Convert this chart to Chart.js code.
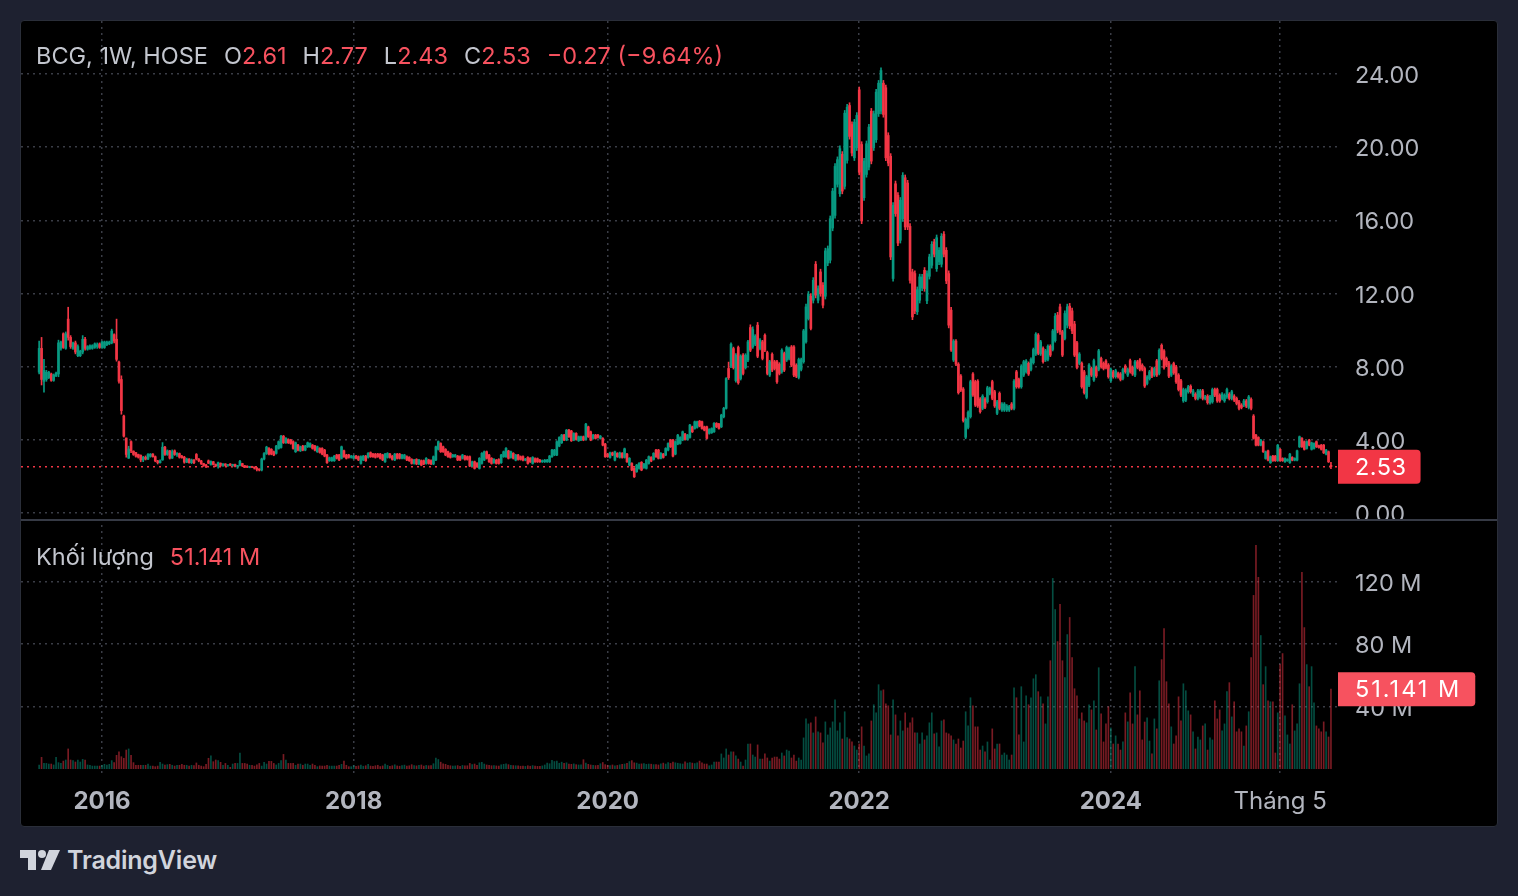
<!DOCTYPE html>
<html lang="vi">
<head>
<meta charset="utf-8">
<title>BCG, 1W, HOSE</title>
<script src="https://cdn.jsdelivr.net/npm/chart.js@4.4.1/dist/chart.umd.min.js"></script>
<style>
  html, body { margin: 0; padding: 0; width: 1518px; height: 896px; overflow: hidden; background: #1e2130; font-family: Inter, "Noto Sans", sans-serif; }
  #frame { position: absolute; left: 20px; top: 20px; width: 1478px; height: 807px; box-sizing: border-box; border: 1px solid #2a2e39; border-radius: 4px; background: #000; overflow: hidden; }
  #wrap { position: absolute; left: 0; top: 0; width: 1476px; height: 805px; }
  #sep { position: absolute; left: 0; top: 498px; width: 1476px; height: 2px; background: #363a45; }
  .legend { position: absolute; left: 15px; font-size: 23.5px; line-height: 28px; white-space: nowrap; color: #c3c6ce; }
  .legend .r { color: #f7525f; }
  .legend .gap { display: inline-block; width: 16px; }
  #title { top: 21px; }
  #vol { top: 522px; }
  #brand { position: absolute; left: 20px; top: 846px; height: 28px; display: flex; align-items: center; color: #d1d4dc; font-size: 25px; font-weight: 600; letter-spacing: -0.2px; }
  #brand svg { margin-right: 7px; }
</style>
</head>
<body>
<div id="frame">
  <div id="wrap"><canvas id="chart"></canvas></div>
  <div id="sep"></div>
  <div class="legend" id="title">BCG, 1W, HOSE<span class="gap"></span>O<span class="r">2.61</span><span class="gap"></span>H<span class="r">2.77</span><span class="gap"></span>L<span class="r">2.43</span><span class="gap"></span>C<span class="r">2.53</span><span class="gap"></span><span class="r">−0.27 (−9.64%)</span></div>
  <div class="legend" id="vol">Khối lượng<span class="gap"></span><span class="r">51.141 M</span></div>
</div>
<div id="brand">
  <svg width="40" height="22" viewBox="0 0 40 22"><path d="M0 1H16V21H8V9H0Z" fill="#d1d4dc"/><circle cx="22" cy="5" r="4" fill="#d1d4dc"/><path d="M29 1H40L31 21H21Z" fill="#d1d4dc"/></svg>
  TradingView
</div>
<script>
// weekly bars, first bar is the week of 2015-07-06
const START_WEEK = '2015-07-06';
const timeTickDates = ['2016-01-04', '2018-01-01', '2020-01-06', '2022-01-03', '2024-01-01', '2025-05-05'];
const timeTickText = ['2016', '2018', '2020', '2022', '2024', 'Tháng 5'];
const priceTicks = [0, 4, 8, 12, 16, 20, 24];
const volumeTicks = [40, 80, 120];

const opens = [
  7.7, 9.0, 7.2, 7.3, 7.4, 7.6, 7.25, 7.5, 7.6, 9.0,
  9.8, 9.0, 10.6, 9.6, 9.0, 9.3, 8.6, 8.6, 8.8, 9.5,
  8.95, 9.0, 9.0, 9.05, 9.1, 9.25, 9.05, 9.05, 9.2, 9.25,
  9.3, 9.75, 9.5, 8.25, 7.3, 5.3, 4.1, 3.0, 3.9, 3.38,
  3.3, 3.2, 3.15, 2.9, 3.05, 2.95, 3.1, 3.22, 3.08, 2.85,
  2.75, 2.9, 3.6, 3.2, 3.4, 3.0, 3.4, 3.2, 3.25, 3.1,
  3.05, 2.78, 2.95, 2.75, 2.9, 3.2, 2.95, 2.85, 2.7, 2.62,
  2.85, 2.65, 2.8, 2.65, 2.58, 2.72, 2.6, 2.68, 2.6, 2.68,
  2.6, 2.65, 2.55, 2.6, 2.7, 2.58, 2.56, 2.5, 2.53, 2.5,
  2.45, 2.38, 2.35, 2.95, 3.25, 3.53, 3.48, 3.35, 3.26, 3.53,
  3.58, 4.20, 3.84, 4.02, 3.99, 3.90, 3.35, 3.71, 3.40, 3.66,
  3.44, 3.62, 3.62, 3.71, 3.66, 3.35, 3.53, 3.53, 3.44, 3.17,
  2.86, 2.86, 2.86, 3.17, 3.17, 2.99, 3.40, 3.17, 3.17, 3.04,
  2.99, 3.11, 3.08, 2.71, 2.90, 3.11, 3.04, 3.30, 3.22, 3.22,
  3.22, 3.22, 3.17, 2.80, 3.04, 3.22, 3.11, 2.90, 3.22, 3.22,
  2.99, 2.99, 3.08, 3.04, 2.93, 2.71, 2.93, 2.68, 2.86, 2.86,
  2.71, 2.90, 2.86, 2.68, 2.90, 3.48, 3.80, 3.62, 3.48, 3.35,
  3.26, 3.08, 3.08, 3.11, 3.08, 2.99, 3.11, 3.08, 3.08, 2.57,
  2.80, 2.71, 2.44, 2.71, 2.90, 3.35, 3.17, 2.99, 2.75, 2.89,
  2.93, 2.75, 3.08, 3.08, 3.39, 3.04, 3.26, 2.89, 3.17, 3.08,
  3.08, 2.89, 3.04, 2.99, 2.71, 2.97, 2.97, 2.89, 2.80, 2.80,
  2.80, 2.80, 3.08, 3.17, 3.17, 3.66, 3.84, 4.26, 3.99, 4.53,
  4.48, 3.99, 4.35, 3.95, 3.99, 4.17, 4.02, 4.71, 4.44, 4.08,
  4.26, 4.26, 4.08, 4.08, 3.77, 3.22, 3.04, 3.29, 2.89, 3.26,
  3.04, 3.26, 3.04, 3.22, 2.62, 2.71, 2.44, 2.26, 2.44, 2.77,
  2.48, 2.44, 2.71, 3.04, 2.93, 3.44, 3.44, 2.99, 3.22, 3.17,
  3.44, 3.99, 3.99, 3.22, 3.77, 3.80, 3.99, 4.31, 4.02, 4.13,
  4.71, 4.62, 4.68, 5.02, 4.99, 4.71, 4.71, 4.35, 4.39, 4.44,
  4.90, 4.86, 4.71, 5.26, 5.72, 7.90, 8.03, 8.99, 7.23, 9.05,
  7.35, 8.63, 7.95, 8.36, 10.14, 9.08, 9.23, 10.27, 8.99, 9.36,
  9.72, 8.77, 7.54, 8.68, 8.27, 8.27, 8.14, 7.72, 8.72, 8.36,
  8.45, 9.08, 9.08, 8.08, 7.41, 7.85, 8.27, 9.36, 10.63, 11.85,
  11.63, 13.60, 11.63, 13.18, 12.45, 11.85, 13.67, 13.82, 15.58, 16.27,
  17.97, 17.46, 19.61, 17.86, 19.28, 22.28, 21.24, 19.42, 19.97, 23.14,
  20.15, 17.24, 18.51, 18.91, 21.97, 19.97, 20.41, 21.83, 21.97, 23.50,
  23.25, 20.64, 19.50, 12.82, 18.00, 17.37, 14.91, 16.09, 18.33, 18.04,
  15.67, 13.18, 13.09, 11.00, 11.63, 12.30, 13.27, 11.60, 12.94, 13.54,
  14.82, 13.36, 13.73, 13.60, 15.24, 14.36, 13.09, 11.09, 8.36, 9.40,
  8.14, 7.49, 6.78, 4.14, 4.68, 5.27, 7.60, 7.18, 7.21, 6.23,
  5.72, 6.23, 6.08, 6.54, 7.18, 6.63, 5.45, 6.54, 5.63, 5.63,
  5.63, 5.63, 5.96, 5.72, 7.72, 7.30, 6.90, 7.54, 7.72, 8.18,
  7.85, 8.22, 8.69, 9.73, 8.69, 9.00, 8.36, 8.40, 9.12, 8.94,
  9.42, 10.82, 11.27, 9.91, 9.54, 10.27, 11.31, 11.05, 10.33, 9.31,
  8.18, 8.18, 7.72, 6.32, 6.99, 7.90, 7.27, 7.96, 7.85, 8.45,
  8.18, 8.31, 8.09, 7.23, 7.72, 7.45, 7.63, 7.60, 7.36, 8.03,
  7.54, 8.33, 7.96, 7.54, 8.27, 8.36, 8.08, 7.90, 7.08, 7.35,
  7.90, 7.54, 8.32, 7.63, 9.17, 8.86, 8.45, 8.21, 7.54, 8.17,
  7.99, 7.54, 7.23, 6.13, 6.17, 6.63, 6.93, 6.44, 6.50, 6.26,
  6.35, 6.68, 6.26, 6.39, 6.03, 6.08, 6.75, 6.75, 6.44, 6.26,
  6.13, 6.35, 6.50, 6.26, 6.39, 6.26, 6.08, 5.90, 5.90, 6.13,
  5.77, 6.21, 5.30, 4.26, 4.13, 3.71, 3.90, 2.98, 3.40, 2.75,
  3.11, 3.11, 2.86, 3.48, 2.98, 2.80, 2.86, 2.75, 3.04, 2.89,
  2.89, 3.62, 4.08, 3.90, 3.53, 3.99, 3.48, 3.53, 3.90, 3.68,
  3.71, 3.71, 3.22, 3.35, 2.61
];
const highs = [
  9.4, 9.6, 8.4, 7.8, 7.75, 7.65, 7.6, 7.7, 9.45, 9.4,
  9.85, 9.9, 11.25, 9.7, 9.35, 9.4, 9.2, 8.9, 9.7, 9.6,
  9.15, 9.2, 9.2, 9.3, 9.3, 9.3, 9.4, 9.4, 9.4, 9.4,
  10.05, 9.8, 10.6, 8.3, 7.5, 5.35, 4.1, 3.65, 3.95, 3.4,
  3.32, 3.22, 3.18, 3.1, 3.12, 3.25, 3.25, 3.25, 3.12, 2.88,
  2.9, 3.85, 3.65, 3.45, 3.42, 3.45, 3.45, 3.3, 3.28, 3.15,
  3.1, 3.0, 2.98, 2.95, 2.92, 3.25, 2.98, 2.88, 2.72, 2.66,
  2.9, 2.85, 2.82, 2.68, 2.78, 2.74, 2.7, 2.7, 2.65, 2.7,
  2.67, 2.67, 2.6, 2.88, 2.72, 2.6, 2.58, 2.55, 2.55, 2.52,
  2.5, 2.42, 3.0, 3.3, 3.65, 3.57, 3.52, 3.39, 3.70, 3.94,
  4.24, 4.24, 4.12, 4.06, 4.03, 3.94, 3.88, 3.75, 3.66, 3.70,
  3.70, 3.88, 3.84, 3.75, 3.70, 3.66, 3.57, 3.57, 3.48, 3.21,
  3.06, 3.06, 3.15, 3.21, 3.21, 3.66, 3.44, 3.21, 3.21, 3.15,
  3.15, 3.15, 3.12, 3.12, 3.15, 3.15, 3.30, 3.34, 3.26, 3.26,
  3.26, 3.26, 3.21, 3.26, 3.30, 3.26, 3.15, 3.26, 3.26, 3.26,
  3.21, 3.21, 3.12, 3.08, 2.97, 2.94, 2.97, 2.94, 2.90, 2.90,
  3.03, 2.94, 2.90, 3.12, 3.66, 3.94, 3.84, 3.66, 3.52, 3.39,
  3.30, 3.21, 3.21, 3.15, 3.12, 3.21, 3.15, 3.12, 3.12, 2.84,
  2.84, 2.75, 3.03, 3.30, 3.39, 3.39, 3.21, 3.03, 2.97, 2.93,
  2.97, 3.21, 3.39, 3.57, 3.43, 3.39, 3.30, 3.21, 3.21, 3.12,
  3.12, 2.99, 3.08, 3.03, 3.08, 3.01, 3.01, 2.93, 2.90, 2.93,
  2.93, 3.15, 3.48, 3.48, 3.94, 4.17, 4.30, 4.30, 4.57, 4.57,
  4.52, 4.39, 4.39, 4.21, 4.21, 4.21, 4.90, 4.75, 4.48, 4.30,
  4.30, 4.30, 4.24, 4.12, 3.81, 3.26, 3.33, 3.33, 3.39, 3.30,
  3.33, 3.30, 3.55, 3.26, 3.03, 2.75, 2.48, 2.66, 2.75, 2.81,
  2.72, 2.93, 3.12, 3.08, 3.30, 3.48, 3.48, 3.30, 3.26, 3.57,
  3.84, 4.03, 4.03, 3.94, 4.30, 4.17, 4.48, 4.35, 4.30, 4.85,
  4.75, 5.03, 5.03, 5.06, 5.03, 4.75, 4.75, 4.61, 4.66, 4.94,
  4.94, 4.90, 5.40, 5.78, 7.40, 8.25, 9.31, 9.07, 8.71, 9.13,
  8.65, 8.71, 8.71, 9.44, 10.29, 10.18, 9.75, 10.42, 9.53, 9.44,
  9.80, 8.85, 8.35, 8.76, 8.35, 8.35, 8.22, 8.98, 8.80, 9.13,
  9.07, 9.16, 9.16, 8.16, 8.47, 8.47, 10.04, 11.42, 12.11, 12.00,
  12.87, 13.75, 12.42, 13.33, 12.60, 14.48, 14.60, 16.24, 17.75, 19.10,
  19.47, 20.07, 19.76, 22.01, 22.34, 22.43, 21.39, 21.52, 21.89, 23.29,
  20.30, 19.39, 20.34, 21.25, 22.12, 21.98, 23.16, 23.65, 24.34, 23.65,
  23.40, 20.79, 19.65, 16.97, 18.15, 17.52, 17.25, 18.61, 18.48, 18.19,
  15.82, 13.33, 13.24, 12.36, 13.06, 13.05, 13.42, 13.24, 14.15, 14.84,
  14.97, 15.20, 14.51, 15.28, 15.39, 14.51, 13.24, 11.24, 9.48, 9.48,
  8.22, 7.57, 6.86, 5.20, 5.58, 7.26, 7.68, 7.26, 7.29, 6.31,
  6.47, 6.31, 6.93, 6.89, 7.26, 6.71, 6.16, 6.62, 6.04, 6.04,
  5.93, 5.89, 6.04, 7.29, 7.80, 7.38, 8.11, 8.35, 8.39, 8.26,
  8.48, 9.02, 9.86, 9.81, 9.44, 9.08, 8.95, 9.20, 9.20, 10.04,
  10.91, 10.97, 11.42, 9.99, 11.06, 11.42, 11.46, 11.20, 10.48, 9.39,
  8.77, 8.26, 7.80, 7.53, 8.17, 7.98, 8.41, 8.04, 8.95, 8.53,
  8.26, 8.39, 8.17, 7.93, 7.80, 7.86, 7.71, 7.68, 7.93, 8.11,
  7.93, 8.41, 8.04, 8.35, 8.35, 8.44, 8.16, 7.98, 7.52, 7.80,
  7.98, 7.98, 8.40, 8.98, 9.25, 8.94, 8.53, 8.29, 8.11, 8.25,
  8.07, 7.62, 7.31, 6.83, 6.80, 6.98, 7.01, 6.76, 6.58, 6.76,
  6.76, 6.76, 6.43, 6.47, 6.43, 6.83, 6.83, 6.83, 6.52, 6.58,
  6.52, 6.83, 6.58, 6.71, 6.47, 6.34, 6.16, 5.98, 6.21, 6.21,
  6.43, 6.29, 5.38, 4.30, 4.17, 4.03, 3.94, 3.39, 3.44, 3.12,
  3.15, 3.15, 3.75, 3.52, 3.02, 3.02, 2.97, 3.26, 3.08, 3.02,
  3.44, 4.21, 4.12, 3.94, 3.94, 4.03, 3.88, 3.84, 3.94, 3.72,
  3.75, 3.75, 3.48, 3.39, 2.77
];
const lows = [
  7.6, 7.0, 6.6, 7.2, 7.35, 7.2, 7.2, 7.45, 7.45, 8.9,
  9.0, 8.95, 9.45, 9.0, 8.95, 8.7, 8.55, 8.55, 8.7, 8.9,
  8.9, 8.95, 8.95, 9.0, 9.0, 9.0, 9.0, 9.0, 9.15, 9.2,
  9.25, 9.3, 8.3, 7.1, 5.4, 4.15, 3.05, 2.98, 3.3, 3.15,
  3.05, 3.0, 2.8, 2.8, 2.9, 2.92, 3.05, 3.05, 2.8, 2.68,
  2.72, 2.88, 3.15, 3.15, 2.95, 2.98, 3.15, 3.1, 3.0, 3.0,
  2.72, 2.75, 2.72, 2.7, 2.7, 2.9, 2.8, 2.65, 2.55, 2.48,
  2.7, 2.62, 2.62, 2.53, 2.45, 2.55, 2.55, 2.55, 2.55, 2.58,
  2.55, 2.52, 2.44, 2.58, 2.53, 2.48, 2.48, 2.47, 2.48, 2.4,
  2.3, 2.3, 2.3, 2.9, 3.2, 3.18, 3.18, 3.13, 3.22, 3.49,
  3.54, 3.80, 3.80, 3.80, 3.76, 3.49, 3.31, 3.40, 3.36, 3.40,
  3.40, 3.58, 3.58, 3.49, 3.40, 3.31, 3.27, 3.18, 3.07, 2.71,
  2.82, 2.82, 2.82, 2.95, 2.86, 2.95, 3.04, 2.95, 3.00, 3.00,
  2.95, 2.95, 2.86, 2.67, 2.86, 2.82, 3.00, 3.04, 3.04, 3.00,
  3.04, 2.95, 2.86, 2.76, 3.00, 3.00, 2.89, 2.86, 2.95, 2.95,
  2.95, 2.95, 2.86, 2.82, 2.67, 2.67, 2.64, 2.64, 2.58, 2.64,
  2.67, 2.67, 2.64, 2.64, 2.86, 3.44, 3.31, 3.31, 3.13, 3.04,
  3.00, 3.04, 3.04, 2.86, 2.86, 2.95, 2.89, 2.89, 2.53, 2.53,
  2.40, 2.49, 2.40, 2.67, 2.86, 2.95, 2.76, 2.67, 2.71, 2.67,
  2.67, 2.71, 3.04, 3.04, 2.95, 3.00, 2.95, 2.85, 2.89, 2.89,
  2.85, 2.85, 2.67, 2.76, 2.67, 2.76, 2.76, 2.76, 2.76, 2.76,
  2.76, 2.76, 3.04, 3.13, 3.13, 3.62, 3.80, 3.95, 3.95, 4.13,
  3.91, 3.95, 3.98, 3.91, 3.95, 3.95, 3.98, 4.13, 3.95, 4.04,
  4.04, 4.09, 4.04, 3.67, 3.04, 3.04, 3.00, 3.13, 2.85, 3.04,
  3.00, 3.00, 3.00, 2.76, 2.58, 2.31, 1.94, 2.22, 2.40, 2.31,
  2.44, 2.40, 2.67, 2.80, 2.89, 3.04, 2.95, 2.95, 3.00, 3.13,
  3.40, 3.58, 3.07, 3.18, 3.73, 3.76, 3.95, 3.98, 3.98, 4.09,
  4.40, 4.58, 4.64, 4.71, 4.58, 4.49, 4.04, 4.31, 4.35, 4.40,
  4.67, 4.58, 4.67, 5.20, 5.68, 7.30, 7.95, 7.87, 7.15, 7.04,
  7.27, 7.55, 7.87, 8.28, 8.82, 9.00, 9.15, 8.49, 8.91, 8.37,
  8.82, 7.55, 7.46, 7.73, 7.82, 7.09, 7.55, 7.64, 7.73, 8.28,
  8.37, 8.00, 7.46, 7.40, 7.33, 7.77, 8.19, 9.28, 10.55, 10.01,
  11.48, 11.76, 11.48, 11.85, 11.21, 11.70, 13.52, 13.67, 15.43, 16.12,
  17.82, 17.31, 17.45, 17.71, 19.13, 20.44, 19.53, 19.27, 19.82, 18.49,
  15.82, 17.09, 18.36, 18.76, 19.09, 19.82, 20.26, 21.68, 21.82, 21.64,
  19.27, 18.98, 13.85, 12.67, 16.22, 14.61, 14.76, 15.94, 15.49, 15.49,
  12.57, 10.57, 10.90, 10.85, 11.48, 12.15, 12.12, 11.45, 12.79, 13.39,
  14.00, 13.21, 13.58, 13.45, 14.00, 12.54, 10.12, 8.83, 8.28, 8.06,
  6.50, 6.64, 4.97, 4.06, 4.60, 5.19, 6.37, 5.82, 5.77, 5.46,
  5.64, 5.70, 6.00, 6.46, 6.19, 5.77, 5.37, 5.64, 5.55, 5.55,
  5.55, 5.55, 5.64, 5.64, 6.82, 6.82, 6.82, 7.46, 7.64, 7.52,
  7.77, 8.14, 8.61, 8.65, 8.61, 8.19, 8.28, 8.32, 8.55, 8.86,
  9.34, 9.85, 9.76, 8.55, 9.46, 10.12, 10.07, 9.81, 8.55, 7.88,
  8.10, 6.82, 6.50, 6.24, 6.91, 7.46, 7.19, 7.41, 7.77, 7.92,
  7.82, 7.88, 7.37, 7.15, 7.37, 7.37, 7.37, 7.22, 7.28, 7.64,
  7.46, 7.64, 7.52, 7.46, 7.88, 7.77, 7.77, 6.86, 7.00, 7.27,
  7.40, 7.46, 7.46, 7.55, 8.37, 7.87, 8.00, 7.40, 7.46, 7.58,
  7.09, 6.67, 6.36, 6.05, 6.09, 6.55, 6.55, 6.36, 6.18, 6.18,
  6.27, 6.18, 6.18, 5.95, 5.95, 6.00, 6.36, 6.05, 6.05, 6.18,
  6.05, 6.27, 6.18, 6.18, 6.09, 5.91, 5.64, 5.69, 5.82, 5.76,
  5.69, 5.64, 4.04, 3.67, 3.67, 3.67, 3.31, 2.94, 2.85, 2.71,
  2.82, 2.82, 2.82, 2.82, 2.82, 2.76, 2.82, 2.71, 2.85, 2.85,
  2.85, 3.58, 3.58, 3.44, 3.49, 3.67, 3.44, 3.49, 3.58, 3.54,
  3.44, 3.25, 3.18, 2.76, 2.43
];
const closes = [
  9.0, 7.3, 7.8, 7.7, 7.7, 7.25, 7.55, 7.65, 9.3, 9.35,
  9.05, 9.8, 9.6, 9.1, 9.3, 8.8, 9.1, 8.85, 9.5, 9.0,
  9.1, 9.15, 9.15, 9.25, 9.2, 9.05, 9.35, 9.35, 9.35, 9.35,
  9.95, 9.4, 8.4, 7.2, 5.6, 4.2, 3.2, 3.5, 3.4, 3.2,
  3.1, 3.05, 2.9, 3.05, 2.95, 3.2, 3.22, 3.08, 2.85, 2.75,
  2.85, 3.6, 3.2, 3.4, 3.0, 3.35, 3.2, 3.25, 3.05, 3.02,
  2.78, 2.95, 2.75, 2.9, 2.75, 2.95, 2.85, 2.7, 2.6, 2.55,
  2.72, 2.82, 2.65, 2.58, 2.75, 2.6, 2.68, 2.6, 2.63, 2.6,
  2.65, 2.55, 2.58, 2.82, 2.58, 2.5, 2.5, 2.53, 2.5, 2.45,
  2.38, 2.35, 2.95, 3.25, 3.6, 3.22, 3.22, 3.17, 3.66, 3.90,
  4.20, 3.84, 4.08, 3.84, 3.80, 3.53, 3.84, 3.44, 3.62, 3.44,
  3.66, 3.84, 3.80, 3.53, 3.44, 3.62, 3.31, 3.22, 3.11, 2.75,
  3.02, 3.02, 3.11, 2.99, 2.90, 3.62, 3.08, 2.99, 3.04, 3.11,
  3.11, 2.99, 2.90, 3.08, 3.11, 2.86, 3.26, 3.08, 3.08, 3.04,
  3.08, 2.99, 2.90, 3.22, 3.26, 3.04, 2.93, 3.22, 2.99, 2.99,
  3.17, 3.17, 2.90, 2.86, 2.71, 2.90, 2.68, 2.90, 2.62, 2.68,
  2.99, 2.71, 2.68, 3.08, 3.62, 3.90, 3.35, 3.35, 3.17, 3.08,
  3.04, 3.17, 3.17, 2.90, 2.90, 3.17, 2.93, 2.93, 2.57, 2.80,
  2.44, 2.53, 2.99, 3.26, 3.35, 2.99, 2.80, 2.71, 2.93, 2.71,
  2.71, 3.17, 3.35, 3.53, 2.99, 3.35, 2.99, 3.17, 2.93, 2.93,
  2.89, 2.95, 2.71, 2.80, 3.04, 2.80, 2.80, 2.80, 2.86, 2.89,
  2.89, 3.11, 3.44, 3.44, 3.90, 4.13, 4.26, 3.99, 4.53, 4.17,
  3.95, 4.35, 4.02, 4.17, 4.17, 3.99, 4.86, 4.17, 3.99, 4.26,
  4.08, 4.13, 4.20, 3.71, 3.08, 3.08, 3.29, 3.17, 3.35, 3.08,
  3.29, 3.04, 3.51, 2.80, 2.99, 2.35, 1.98, 2.62, 2.71, 2.35,
  2.68, 2.89, 3.08, 2.84, 3.26, 3.08, 2.99, 3.26, 3.04, 3.53,
  3.80, 3.62, 3.11, 3.90, 4.26, 4.13, 4.44, 4.02, 4.26, 4.81,
  4.44, 4.99, 4.99, 4.75, 4.62, 4.53, 4.08, 4.57, 4.62, 4.90,
  4.71, 4.62, 5.35, 5.72, 7.35, 7.40, 9.23, 7.95, 8.63, 7.12,
  8.57, 7.63, 8.63, 9.36, 8.90, 10.03, 9.67, 8.57, 9.45, 8.45,
  8.90, 7.63, 8.27, 7.81, 7.90, 7.17, 7.63, 8.90, 7.81, 9.05,
  8.99, 8.08, 7.54, 7.48, 8.39, 8.39, 9.96, 11.27, 11.96, 10.09,
  12.72, 11.91, 12.27, 12.00, 11.36, 14.33, 14.45, 16.09, 17.60, 18.95,
  19.32, 19.92, 17.60, 21.86, 22.19, 20.59, 19.68, 21.37, 21.74, 18.64,
  15.97, 19.24, 20.19, 21.10, 19.24, 21.83, 23.01, 23.50, 24.19, 21.79,
  19.42, 19.13, 14.00, 16.82, 16.37, 14.76, 17.10, 18.46, 15.64, 15.64,
  12.72, 10.72, 11.05, 12.21, 12.91, 12.90, 12.27, 13.09, 14.00, 14.69,
  14.15, 15.05, 14.36, 15.13, 14.15, 12.69, 10.27, 8.91, 9.40, 8.14,
  6.58, 6.72, 5.05, 5.12, 5.50, 7.18, 6.45, 5.90, 5.85, 5.54,
  6.39, 5.78, 6.85, 6.81, 6.27, 5.85, 6.08, 5.72, 5.96, 5.96,
  5.85, 5.81, 5.72, 7.21, 6.90, 6.90, 8.03, 8.27, 8.31, 7.60,
  8.40, 8.94, 9.78, 8.73, 9.36, 8.27, 8.87, 9.12, 8.63, 9.96,
  10.76, 10.00, 9.91, 8.63, 10.91, 11.27, 10.22, 9.96, 8.63, 7.96,
  8.69, 6.90, 6.58, 7.45, 8.09, 7.54, 8.33, 7.49, 8.87, 8.00,
  7.90, 7.96, 7.45, 7.85, 7.45, 7.78, 7.45, 7.30, 7.85, 7.72,
  7.85, 7.72, 7.60, 8.27, 7.96, 7.85, 7.85, 6.94, 7.44, 7.72,
  7.48, 7.90, 7.54, 8.90, 8.45, 7.95, 8.08, 7.48, 8.03, 7.66,
  7.17, 6.75, 6.44, 6.75, 6.72, 6.90, 6.63, 6.68, 6.26, 6.68,
  6.68, 6.26, 6.35, 6.03, 6.35, 6.75, 6.44, 6.13, 6.13, 6.50,
  6.44, 6.75, 6.26, 6.63, 6.17, 5.99, 5.72, 5.77, 6.13, 5.84,
  6.35, 5.72, 4.08, 3.71, 3.71, 3.99, 3.35, 3.35, 2.89, 3.08,
  2.86, 2.86, 3.71, 2.86, 2.86, 2.98, 2.93, 3.22, 2.89, 2.98,
  3.40, 4.17, 3.62, 3.48, 3.90, 3.71, 3.84, 3.80, 3.62, 3.58,
  3.48, 3.29, 3.44, 2.80, 2.53
];
// millions of shares per week
const volumes = [
  2.4, 7.3, 3.4, 3.4, 3.0, 3.0, 2.4, 7.3, 3.9, 3.5,
  4.9, 5.6, 12.7, 5.6, 5.2, 4.3, 5.6, 4.3, 6.0, 5.6,
  2.4, 2.2, 1.7, 1.7, 1.7, 1.7, 2.2, 2.8, 2.4, 2.8,
  5.2, 3.9, 8.6, 10.8, 7.7, 6.7, 12.0, 12.7, 8.6, 3.9,
  2.2, 2.2, 2.2, 2.2, 2.2, 3.0, 1.7, 1.7, 1.3, 1.7,
  4.1, 3.0, 2.4, 2.6, 2.8, 2.2, 1.7, 2.2, 2.2, 2.8,
  2.2, 2.2, 1.7, 2.2, 2.0, 3.7, 2.2, 1.7, 1.3, 2.8,
  6.7, 8.2, 4.5, 5.6, 5.2, 4.1, 2.2, 3.4, 2.2, 0.9,
  3.0, 3.4, 3.4, 10.1, 3.4, 3.4, 3.0, 2.2, 2.2, 1.7,
  2.5, 3.4, 1.7, 4.1, 3.0, 4.7, 4.7, 3.4, 2.4, 3.4,
  5.2, 9.2, 5.6, 3.4, 3.4, 3.4, 2.2, 3.0, 3.0, 2.2,
  3.0, 3.0, 2.2, 3.0, 2.2, 1.3, 1.8, 1.7, 1.7, 2.2,
  1.7, 1.7, 1.7, 1.7, 2.2, 2.8, 4.9, 2.2, 1.3, 1.3,
  2.0, 1.5, 1.8, 2.4, 1.6, 1.9, 2.8, 1.7, 1.5, 1.9,
  2.2, 1.4, 1.8, 3.0, 2.1, 1.6, 1.9, 2.5, 1.8, 1.6,
  2.0, 2.3, 1.7, 1.9, 2.6, 2.0, 1.8, 2.2, 2.4, 1.7,
  2.1, 1.9, 2.0, 3.2, 6.8, 5.9, 4.2, 3.1, 2.8, 2.2,
  1.9, 1.7, 1.8, 2.0, 1.6, 2.1, 1.8, 1.9, 3.4, 2.6,
  3.0, 2.2, 3.8, 4.1, 3.0, 2.4, 2.2, 1.9, 2.0, 1.8,
  1.7, 2.5, 2.8, 3.1, 2.6, 2.2, 2.0, 1.9, 1.8, 1.6,
  1.7, 1.5, 1.9, 1.6, 2.0, 1.7, 1.5, 1.6, 1.8, 2.4,
  3.6, 3.2, 5.4, 4.6, 4.9, 3.5, 4.2, 3.4, 3.8, 3.0,
  2.8, 3.1, 2.6, 2.4, 2.5, 5.8, 3.6, 2.8, 2.4, 2.2,
  2.0, 2.1, 3.2, 4.0, 2.6, 2.2, 2.0, 2.4, 1.9, 2.1,
  2.5, 2.8, 3.0, 3.4, 4.6, 5.2, 3.8, 3.6, 2.9, 3.1,
  3.3, 2.8, 3.0, 2.9, 2.6, 2.7, 2.4, 3.2, 3.6, 3.0,
  3.9, 3.4, 4.2, 3.8, 3.5, 3.2, 3.0, 4.4, 3.6, 4.0,
  3.6, 3.3, 3.8, 4.9, 3.7, 3.0, 3.0, 1.9, 2.4, 4.3,
  4.3, 4.3, 9.5, 6.9, 12.7, 8.8, 10.8, 10.8, 8.2, 6.2,
  4.3, 1.7, 5.6, 15.9, 15.9, 8.8, 7.5, 15.3, 6.2, 6.2,
  9.5, 6.9, 4.9, 6.9, 7.5, 7.5, 6.2, 10.1, 8.2, 12.0,
  11.4, 6.9, 8.8, 4.9, 6.9, 5.6, 19.8, 32.0, 28.8, 29.5,
  23.0, 33.3, 23.7, 23.0, 16.6, 30.1, 21.7, 26.2, 30.1, 44.3,
  24.3, 29.5, 19.1, 36.6, 20.0, 19.1, 17.2, 14.6, 12.0, 15.9,
  26.9, 14.6, 8.2, 9.5, 30.7, 41.1, 35.9, 54.0, 50.1, 50.7,
  41.7, 40.4, 21.7, 44.3, 34.6, 21.1, 30.7, 24.3, 35.9, 26.2,
  29.5, 32.7, 23.0, 23.0, 15.9, 23.0, 18.5, 21.1, 29.5, 35.9,
  22.4, 23.0, 14.0, 30.7, 31.4, 23.0, 22.4, 21.1, 18.5, 15.9,
  19.1, 13.3, 17.8, 36.6, 27.5, 45.6, 40.4, 26.9, 26.9, 12.0,
  14.6, 10.8, 17.2, 5.6, 25.6, 12.7, 15.9, 15.9, 8.8, 10.1,
  8.8, 5.6, 8.8, 52.0, 45.6, 21.7, 52.7, 17.2, 46.9, 41.1,
  45.6, 57.8, 60.4, 49.5, 46.2, 41.7, 28.8, 46.2, 69.4, 122.3,
  102.3, 81.7, 105.6, 69.4, 58.5, 86.2, 97.2, 71.4, 51.4, 46.9,
  32.0, 35.9, 30.7, 29.5, 41.1, 37.8, 43.6, 24.9, 64.9, 35.3,
  17.2, 28.8, 39.8, 26.2, 15.9, 21.1, 15.9, 12.0, 17.2, 35.9,
  30.1, 48.8, 28.8, 65.6, 34.6, 50.1, 18.5, 30.0, 32.7, 17.8,
  9.5, 32.0, 25.6, 56.5, 70.1, 90.1, 55.9, 41.7, 26.9, 15.9,
  21.1, 46.2, 30.7, 54.6, 50.1, 37.2, 34.6, 23.7, 12.7, 20.4,
  18.5, 27.5, 28.8, 12.0, 19.8, 18.5, 43.6, 32.0, 37.8, 24.3,
  28.8, 49.5, 55.3, 33.3, 43.0, 23.7, 25.6, 23.7, 14.6, 27.5,
  36.6, 71.4, 111.4, 143.6, 123.0, 85.6, 54.0, 65.6, 43.6, 43.0,
  43.0, 10.1, 35.9, 66.9, 74.0, 34.0, 21.7, 15.9, 41.1, 24.3,
  28.8, 54.6, 126.2, 90.7, 66.9, 52.7, 65.6, 42.4, 27.5, 25.6,
  23.7, 30.1, 23.7, 20.4, 51.141
];

const UP = '#089981';
const DOWN = '#f23645';
const UP_VOL = 'rgba(8, 153, 129, 0.5)';
const DOWN_VOL = 'rgba(242, 54, 69, 0.5)';
const GRID = '#3a3d46';
const AXIS_TEXT = '#b2b5be';
const FONT = 'Inter, "Noto Sans", sans-serif';
// empty slots before the first and after the last bar
const PAD_L = 7, PAD_R = 2;

const weeks = opens.map((_, i) => {
  const d = new Date(START_WEEK + 'T00:00:00Z');
  d.setUTCDate(d.getUTCDate() + 7 * i);
  return d.toISOString().slice(0, 10);
});
const labels = [...Array(PAD_L).fill(''), ...weeks, ...Array(PAD_R).fill('')];
const pad = arr => [...Array(PAD_L).fill(null), ...arr, ...Array(PAD_R).fill(null)];

const isUp = closes.map((c, i) => c >= opens[i]);
const candleColors = pad(isUp.map(u => u ? UP : DOWN));
const volColors = pad(isUp.map(u => u ? UP_VOL : DOWN_VOL));

const lastClose = closes[closes.length - 1];
const lastVol = volumes[volumes.length - 1];
const lastColor = isUp[isUp.length - 1] ? UP : DOWN;

function drawTag(ctx, x, y, text, bg, spacing) {
  ctx.save();
  ctx.font = '23.5px ' + FONT;
  ctx.letterSpacing = spacing + 'px';
  const w = ctx.measureText(text).width + 31;
  ctx.fillStyle = bg;
  ctx.beginPath();
  ctx.roundRect(x, y - 17, w, 34, [0, 4, 4, 0]);
  ctx.fill();
  ctx.fillStyle = '#ffffff';
  ctx.textBaseline = 'middle';
  ctx.textAlign = 'left';
  ctx.fillText(text, x + 17, y + 1);
  ctx.restore();
}

const lastValuePlugin = {
  id: 'lastValue',
  beforeDatasetsDraw(chart) {
    const { ctx, chartArea } = chart;
    const y = chart.scales.y.getPixelForValue(lastClose);
    ctx.save();
    ctx.strokeStyle = lastColor;
    ctx.lineWidth = 1.5;
    ctx.setLineDash([2, 4]);
    ctx.beginPath();
    ctx.moveTo(chartArea.left, y);
    ctx.lineTo(chartArea.right, y);
    ctx.stroke();
    ctx.restore();
  },
  afterDraw(chart) {
    const { ctx, chartArea } = chart;
    // the price pane labels stop at the pane border
    ctx.save();
    ctx.fillStyle = '#000';
    ctx.fillRect(chartArea.right, chart.scales.yv.top, chart.width - chartArea.right, 12);
    ctx.restore();
    drawTag(ctx, chartArea.right + 1, chart.scales.y.getPixelForValue(lastClose), lastClose.toFixed(2), lastColor, 0.5);
    drawTag(ctx, chartArea.right + 1, chart.scales.yv.getPixelForValue(lastVol), lastVol.toFixed(3) + ' M', '#f7525f', 2);
  }
};

const noPadY = s => { s.width = 160; s.paddingTop = 0; s.paddingBottom = 0; };

new Chart(document.getElementById('chart'), {
  type: 'bar',
  data: {
    labels: labels,
    datasets: [
      {
        label: 'wick',
        data: pad(highs.map((h, i) => [lows[i], h])),
        backgroundColor: candleColors,
        barThickness: 1,
        grouped: false,
        yAxisID: 'y',
        order: 2
      },
      {
        label: 'body',
        data: pad(opens.map((o, i) => [o, closes[i]])),
        backgroundColor: candleColors,
        barThickness: 2,
        minBarLength: 1,
        grouped: false,
        yAxisID: 'y',
        order: 1
      },
      {
        label: 'volume',
        data: pad(volumes),
        backgroundColor: volColors,
        barThickness: 1,
        grouped: false,
        yAxisID: 'yv',
        order: 3
      }
    ]
  },
  options: {
    responsive: true,
    maintainAspectRatio: false,
    animation: false,
    events: [],
    layout: { padding: 0 },
    plugins: { legend: { display: false }, tooltip: { enabled: false } },
    scales: {
      x: {
        afterFit: s => { s.height = 51; s.paddingLeft = 0; s.paddingRight = 0; },
        grid: {
          offset: false,
          drawTicks: false,
          lineWidth: 1.5,
          color: c => (c.tick && c.tick.label) ? GRID : 'rgba(0,0,0,0)'
        },
        border: { display: false, dash: [2, 4] },
        ticks: {
          autoSkip: false,
          maxRotation: 0,
          minRotation: 0,
          padding: 12,
          color: AXIS_TEXT,
          font: c => ({ family: FONT, size: 24, weight: (c.tick && /^\d{4}$/.test(c.tick.label)) ? '700' : '400' }),
          callback: (v, i) => {
            const k = timeTickDates.indexOf(labels[i]);
            return k >= 0 ? timeTickText[k] : '';
          }
        }
      },
      y: {
        position: 'right',
        stack: 'panes',
        stackWeight: 499,
        min: -0.383,
        max: 26.9,
        afterBuildTicks: s => { s.ticks = priceTicks.map(v => ({ value: v })); },
        afterFit: noPadY,
        grid: { color: GRID, drawTicks: false, lineWidth: 1.5 },
        border: { display: false, dash: [2, 4] },
        ticks: { color: AXIS_TEXT, padding: 18, labelOffset: 2, font: { family: FONT, size: 23.5 }, callback: v => v.toFixed(2) }
      },
      yv: {
        position: 'right',
        stack: 'panes',
        stackWeight: 255,
        min: -4.05,
        max: 159.85,
        afterBuildTicks: s => { s.ticks = volumeTicks.map(v => ({ value: v })); },
        afterFit: noPadY,
        grid: { color: GRID, drawTicks: false, lineWidth: 1.5 },
        border: { display: false, dash: [2, 4] },
        ticks: { color: AXIS_TEXT, padding: 18, labelOffset: 2, font: { family: FONT, size: 23.5 }, callback: v => v + ' M' }
      }
    }
  },
  plugins: [lastValuePlugin]
});
</script>
</body>
</html>
